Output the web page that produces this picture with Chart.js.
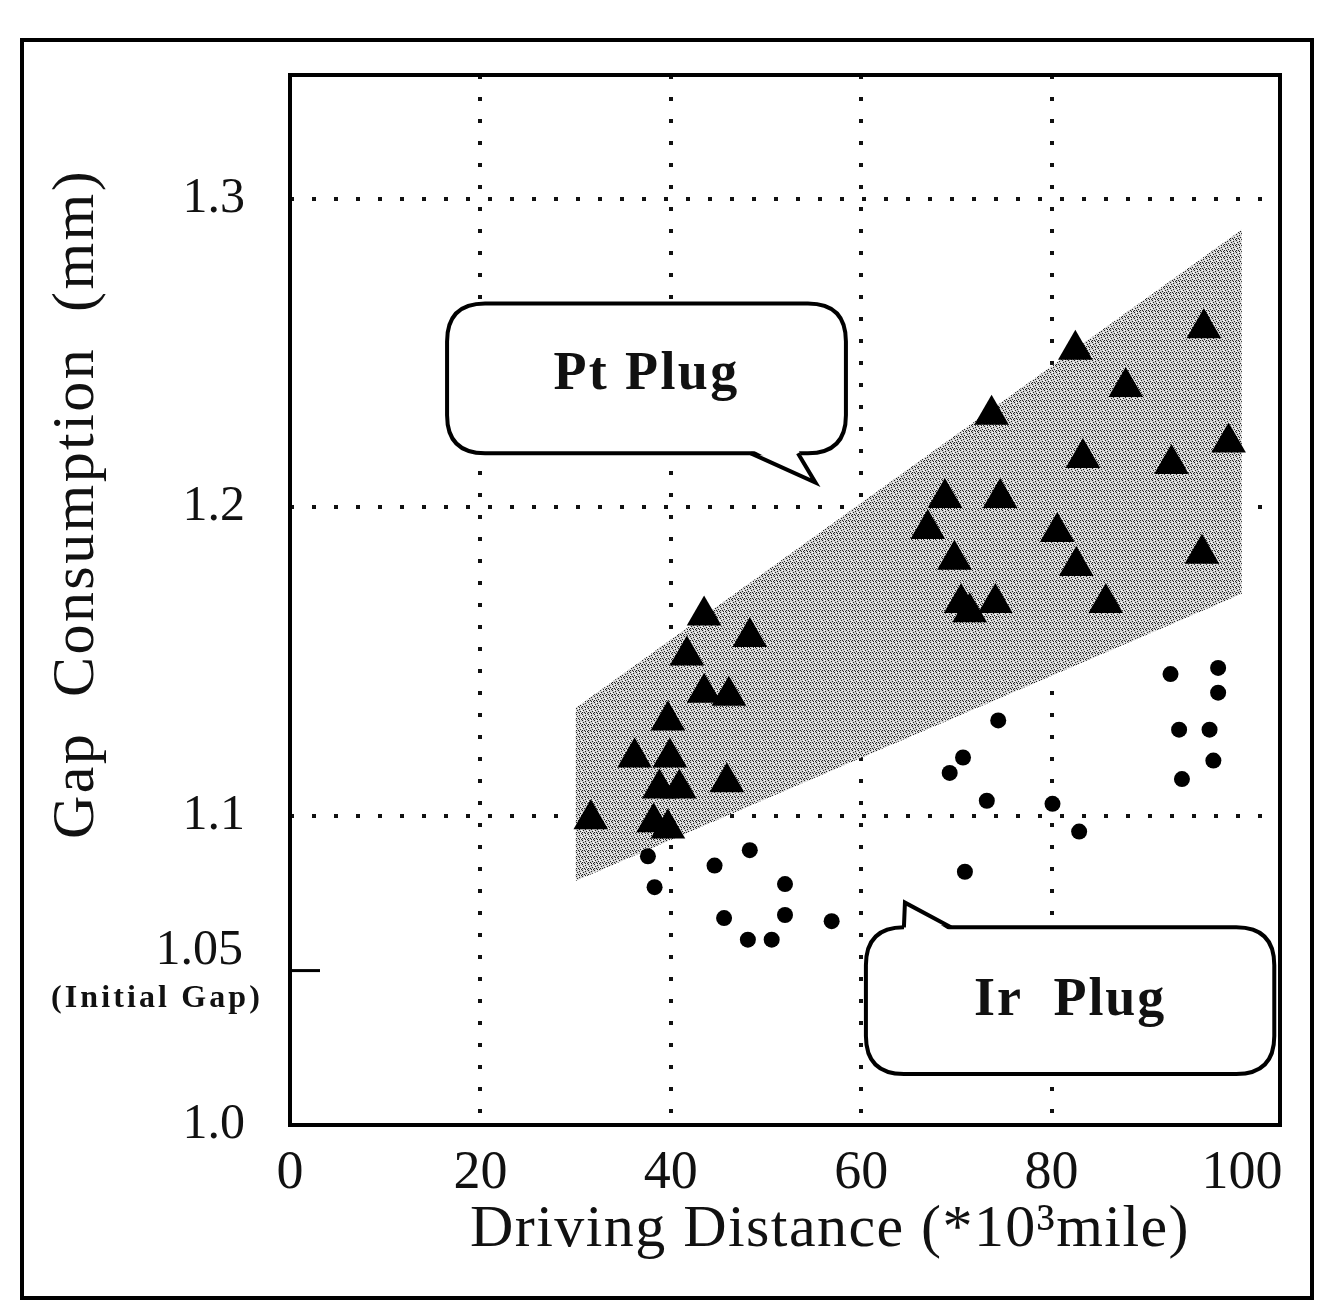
<!DOCTYPE html>
<html>
<head>
<meta charset="utf-8">
<script src="https://cdn.jsdelivr.net/npm/chart.js@4.4.1/dist/chart.umd.min.js"></script>
<style>
html,body{margin:0;padding:0;background:#fff;}
#wrap{position:relative;width:1327px;height:1305px;}
</style>
</head>
<body>
<div id="wrap"><canvas id="c" width="1327" height="1305"></canvas></div>
<script>
// ---- data ----
const ptX = [43.5, 48.3, 41.7, 43.5, 46.1, 39.7, 36.2, 39.9, 38.8, 40.9, 45.9, 31.6, 38.2, 39.7,
             96.0, 82.5, 87.8, 73.7, 98.6, 83.3, 92.6, 68.8, 74.6, 67.0, 80.6, 69.8, 82.6, 95.8, 70.5, 71.4, 74.1, 85.7];
const ptY = [1.165, 1.158, 1.152, 1.140, 1.139, 1.131, 1.119, 1.119, 1.109, 1.109, 1.111, 1.099, 1.098, 1.096,
             1.258, 1.251, 1.239, 1.230, 1.221, 1.216, 1.214, 1.203, 1.203, 1.193, 1.192, 1.183, 1.181, 1.185, 1.169, 1.166, 1.169, 1.169];
const irX = [37.6, 38.3, 44.6, 48.3, 45.6, 52.0, 52.0, 48.1, 50.6, 56.9,
             74.4, 70.7, 69.3, 73.2, 80.1, 82.9, 70.9, 92.5, 97.5, 97.5, 93.4, 96.6, 97.0, 93.7];
const irY = [1.087, 1.077, 1.084, 1.089, 1.067, 1.078, 1.068, 1.060, 1.060, 1.066,
             1.131, 1.119, 1.114, 1.105, 1.104, 1.095, 1.082, 1.146, 1.148, 1.140, 1.128, 1.128, 1.118, 1.112];
const bandX = [30, 100];
const bandUpper = [1.135, 1.29];
const bandLower = [1.079, 1.172];
const xTicks = [0, 20, 40, 60, 80, 100];
const yTicks = [1.0, 1.05, 1.1, 1.2, 1.3];
const xGrid = [20, 40, 60, 80];
const yGrid = [1.1, 1.2, 1.3];
const xTitle = 'Driving Distance (*10\u00B3mile)';
const yTitle = 'Gap  Consumption  (mm)';
const initialGapValue = '1.05';
const initialGapLabel = '(Initial Gap)';
const ptLabel = 'Pt Plug';
const irLabel = 'Ir  Plug';

const SERIF = '"Liberation Serif", "DejaVu Serif", serif';

// stipple pattern for the Pt band
function makePattern() {
  const t = document.createElement('canvas');
  t.width = 6; t.height = 6;
  const g = t.getContext('2d');
  g.fillStyle = '#d0d0d0'; g.fillRect(0, 0, 6, 6);
  g.fillStyle = '#222';
  [[0,0],[3,1],[1,2],[4,3],[2,4],[5,5],[0,4],[3,5]].forEach(p => g.fillRect(p[0], p[1], 1, 1));
  g.fillStyle = '#fff';
  [[2,0],[5,2],[0,3],[4,5]].forEach(p => g.fillRect(p[0], p[1], 1, 1));
  return document.getElementById('c').getContext('2d').createPattern(t, 'repeat');
}

function fitText(ctx, text, x, y, targetW) {
  ctx.save();
  ctx.textAlign = 'left';
  const hasLS = ('letterSpacing' in ctx);
  if (hasLS) ctx.letterSpacing = '0px';
  let w = ctx.measureText(text).width;
  if (hasLS && targetW > w) {
    const ls = (targetW - w) / text.length;
    ctx.letterSpacing = ls.toFixed(2) + 'px';
    w = ctx.measureText(text).width;
  }
  ctx.fillText(text, x - w / 2, y);
  ctx.restore();
}

function bubblePath(ctx, x1, y1, x2, y2, r) {
  ctx.beginPath();
  ctx.moveTo(x1 + r, y1);
  ctx.lineTo(x2 - r, y1);
  ctx.quadraticCurveTo(x2, y1, x2, y1 + r);
  ctx.lineTo(x2, y2 - r);
  ctx.quadraticCurveTo(x2, y2, x2 - r, y2);
  ctx.lineTo(x1 + r, y2);
  ctx.quadraticCurveTo(x1, y2, x1, y2 - r);
  ctx.lineTo(x1, y1 + r);
  ctx.quadraticCurveTo(x1, y1, x1 + r, y1);
  ctx.closePath();
}

function drawBubble(ctx, x1, y1, x2, y2, b1, b2, tip, inward) {
  ctx.save();
  ctx.lineWidth = 4;
  ctx.strokeStyle = '#000';
  ctx.fillStyle = '#fff';
  bubblePath(ctx, x1, y1, x2, y2, 38);
  ctx.fill(); ctx.stroke();
  ctx.beginPath();
  ctx.moveTo(b1[0], b1[1] + inward);
  ctx.lineTo(tip[0], tip[1]);
  ctx.lineTo(b2[0], b2[1] + inward);
  ctx.closePath();
  ctx.fill();
  ctx.beginPath();
  ctx.moveTo(b1[0], b1[1]);
  ctx.lineTo(tip[0], tip[1]);
  ctx.lineTo(b2[0], b2[1]);
  ctx.stroke();
  ctx.restore();
}

const decor = {
  id: 'decor',
  afterDraw(chart) {
    const ctx = chart.ctx;
    const a = chart.chartArea;
    const xs = chart.scales.x, ys = chart.scales.y;
    ctx.save();
    // outer frame
    ctx.strokeStyle = '#000';
    ctx.lineWidth = 4;
    ctx.strokeRect(22, 40, 1290, 1258);
    // plot frame
    ctx.lineWidth = 4;
    ctx.strokeRect(a.left, a.top, a.right - a.left, a.bottom - a.top);
    // initial gap tick
    const yg = ys.getPixelForValue(1.05);
    ctx.lineWidth = 3;
    ctx.beginPath(); ctx.moveTo(a.left, yg); ctx.lineTo(a.left + 30, yg); ctx.stroke();
    // initial gap labels
    ctx.fillStyle = '#111';
    ctx.textBaseline = 'middle';
    ctx.font = '50px ' + SERIF;
    ctx.textAlign = 'right';
    ctx.fillText(initialGapValue, 243, yg - 20);
    ctx.font = 'bold 32px ' + SERIF;
    fitText(ctx, initialGapLabel, 157, yg + 28, 212);

    // axis titles
    ctx.font = '60px ' + SERIF;
    fitText(ctx, xTitle, 830, 1230, 720);
    ctx.save();
    ctx.translate(77, 504);
    ctx.rotate(-Math.PI / 2);
    ctx.font = '60px ' + SERIF;
    fitText(ctx, yTitle, 0, 0, 670);
    ctx.restore();

    // Pt bubble
    const px1 = xs.getPixelForValue(16.5), px2 = xs.getPixelForValue(58.4);
    const py1 = ys.getPixelForValue(1.266), py2 = ys.getPixelForValue(1.2175);
    const ptTip = [xs.getPixelForValue(55.2), ys.getPixelForValue(1.208)];
    drawBubble(ctx, px1, py1, px2, py2, [px2 - 95, py2], [px2 - 48, py2], ptTip, -4);
    ctx.fillStyle = '#111';
    ctx.font = 'bold 54px ' + SERIF;
    fitText(ctx, ptLabel, (px1 + px2) / 2, (py1 + py2) / 2 - 3, 186);

    // Ir bubble
    const ix1 = xs.getPixelForValue(60.5), ix2 = xs.getPixelForValue(103.4);
    const iy1 = ys.getPixelForValue(1.064), iy2 = ys.getPixelForValue(1.0165);
    const irTip = [xs.getPixelForValue(64.6), ys.getPixelForValue(1.072)];
    drawBubble(ctx, ix1, iy1, ix2, iy2, [ix1 + 38, iy1], [ix1 + 85, iy1], irTip, 4);
    ctx.fillStyle = '#111';
    ctx.font = 'bold 54px ' + SERIF;
    fitText(ctx, irLabel, (ix1 + ix2) / 2, (iy1 + iy2) / 2, 192);
    ctx.restore();
  }
};

const pattern = makePattern();
const near = (list, v) => list.some(g => Math.abs(g - v) < 1e-9);

new Chart(document.getElementById('c'), {
  type: 'scatter',
  data: {
    datasets: [
      {
        label: 'Pt band upper', type: 'line', order: 5,
        data: bandX.map((x, i) => ({x, y: bandUpper[i]})),
        borderWidth: 0, borderColor: 'rgba(0,0,0,0)', pointRadius: 0, fill: false, showLine: true
      },
      {
        label: 'Pt band lower', type: 'line', order: 4,
        data: bandX.map((x, i) => ({x, y: bandLower[i]})),
        borderWidth: 0, borderColor: 'rgba(0,0,0,0)', pointRadius: 0, fill: '-1',
        backgroundColor: pattern, showLine: true
      },
      {
        label: 'Pt Plug', order: 1,
        data: ptX.map((x, i) => ({x, y: ptY[i]})),
        pointStyle: 'triangle', pointRadius: 20, backgroundColor: '#000', borderWidth: 0
      },
      {
        label: 'Ir Plug', order: 1,
        data: irX.map((x, i) => ({x, y: irY[i]})),
        pointStyle: 'circle', pointRadius: 8, backgroundColor: '#000', borderWidth: 0
      }
    ]
  },
  options: {
    responsive: false,
    animation: false,
    devicePixelRatio: 1,
    events: [],
    layout: { padding: { left: 0, top: 70, right: 47, bottom: 0 } },
    plugins: { legend: { display: false }, tooltip: { enabled: false }, title: { display: false } },
    scales: {
      x: {
        type: 'linear', min: 0, max: 104,
        afterFit(s) { s.height = 180; },
        afterBuildTicks(s) { s.ticks = xTicks.map(v => ({value: v})); },
        ticks: {
          autoSkip: false, maxRotation: 0, padding: 16, color: '#111',
          font: { family: SERIF, size: 54 },
          callback: v => String(v)
        },
        grid: {
          drawTicks: false, lineWidth: 4,
          color: c => (c.tick && near(xGrid, c.tick.value)) ? '#111' : 'rgba(0,0,0,0)'
        },
        border: { display: false, dash: [4, 18] }
      },
      y: {
        type: 'linear', min: 1.0, max: 1.34,
        afterFit(s) { s.width = 290; },
        afterBuildTicks(s) { s.ticks = yTicks.map(v => ({value: v})); },
        ticks: {
          autoSkip: false, padding: 45, color: '#111',
          font: { family: SERIF, size: 50 },
          callback: v => (Math.abs(v - 1.05) < 1e-9 ? '' : Number(v).toFixed(1))
        },
        grid: {
          drawTicks: false, lineWidth: 4,
          color: c => (c.tick && near(yGrid, c.tick.value)) ? '#111' : 'rgba(0,0,0,0)'
        },
        border: { display: false, dash: [4, 18] }
      }
    }
  },
  plugins: [decor]
});
</script>
</body>
</html>
